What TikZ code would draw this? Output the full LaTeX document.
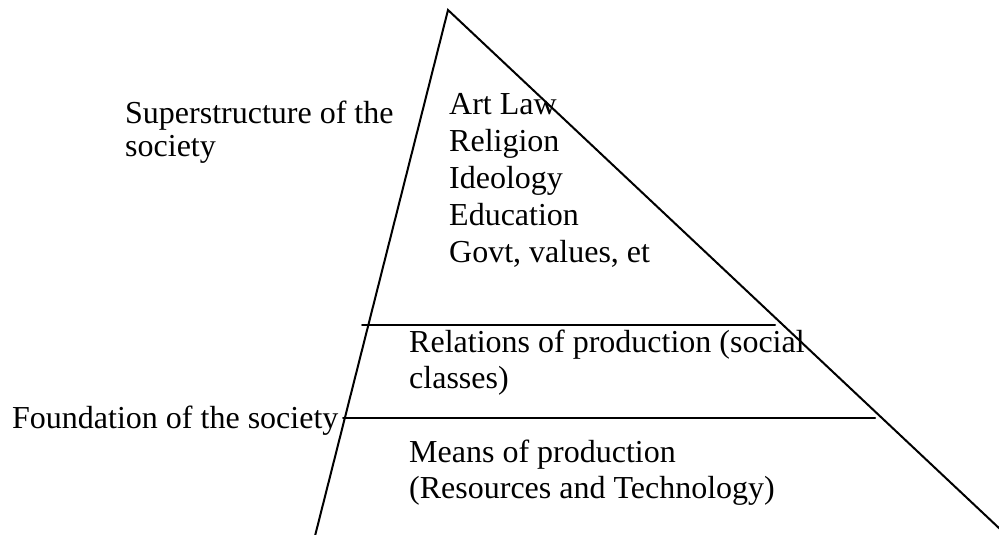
\documentclass[tikz,border=0pt]{standalone}
\usepackage{fontspec}
\setmainfont{Liberation Serif}
\begin{document}
\begin{tikzpicture}[x=1pt,y=-1pt,
  edge/.style={line width=2pt,line cap=round},
  lbl/.style={inner sep=0pt,anchor=base west,align=left,font=\fontsize{32}{36.8}\selectfont}]
\useasboundingbox (0,0) rectangle (999,535);
\coordinate (apex) at (448,10);
\coordinate (bl) at (315,536);
\coordinate (br) at (1000,529);
\coordinate (h1l) at (362,325);
\coordinate (h1r) at (775,325);
\coordinate (h2l) at (343,418);
\coordinate (h2r) at (875,418);
\draw[edge] (bl) -- (apex) -- (br);
\draw[edge] (h1l) -- (h1r);
\draw[edge] (h2l) -- (h2r);
% base anchor of a multi-line node is the baseline of its last line
\node[lbl,font=\fontsize{32}{33}\selectfont] (sup) at (125,156) {Superstructure of the\\society};
\node[lbl] (found) at (12,428) {Foundation of the society};
\node[lbl] (art) at (449,262) {Art Law\\Religion\\Ideology\\Education\\Govt, values, et};
\node[lbl] (rel) at (409,388.8) {Relations of production (social\\classes)};
\node[lbl] (means) at (409,498.8) {Means of production\\(Resources and Technology)};
\end{tikzpicture}
\end{document}
